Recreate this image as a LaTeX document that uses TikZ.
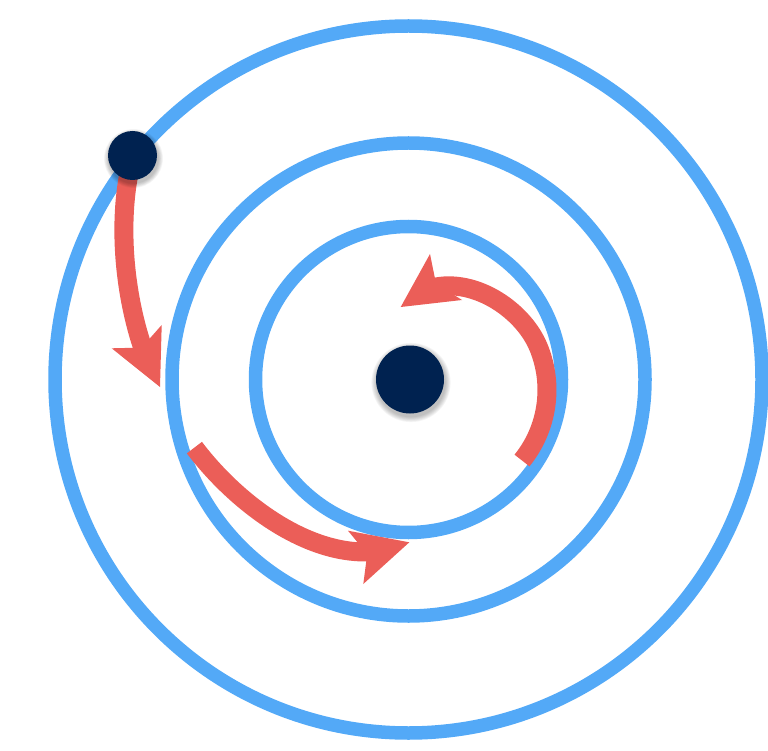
\documentclass[tikz,border=0pt]{standalone}
\usetikzlibrary{calc}
\definecolor{orbitblue}{RGB}{83,169,247}
\definecolor{arrowred}{RGB}{235,94,88}
\definecolor{navy}{RGB}{0,34,80}
\tikzset{
  orbitline/.style={draw=orbitblue, line width=13.5pt},
  redshaft/.style={draw=arrowred, line width=19pt},
  redhead/.style={fill=arrowred, draw=none},
  bodydot/.style={circle, fill=navy, draw=none, inner sep=0pt, minimum size=#1},
  shadowring/.style={fill=black, opacity=0.04},
}
\begin{document}
\begin{tikzpicture}[x=1pt,y=-1pt]
\useasboundingbox (0,0) rectangle (768,751);
\coordinate (O) at (408.5,379.5);
\coordinate (C) at (410,379.5);
\coordinate (P) at (132.5,155.5);
% orbits
\draw[orbitline] (O) circle (353.5pt);
\draw[orbitline] (O) circle (236.5pt);
\draw[orbitline] (O) circle (153pt);
% arrow 1
\coordinate (a1s) at (130.7,165);
\coordinate (a1e) at (145.9,356.7);
\coordinate (a1t) at (160,387);
\coordinate (a1l) at (111.7,348.3);
\coordinate (a1n) at (141.7,347.6);
\coordinate (a1r) at (161.7,325);
\draw[redshaft] (a1s) .. controls (117,225) and (124.9,300.3) .. (a1e);
\fill[redhead] (a1t) -- (a1l) -- (a1n) -- (a1r) -- cycle;
% arrow 2
\coordinate (a2s) at (194.4,447.6);
\coordinate (a2e) at (376.8,551.4);
\coordinate (a2t) at (409.3,542.3);
\coordinate (a2u) at (348,530.7);
\coordinate (a2n) at (367.2,554.1);
\coordinate (a2d) at (363.3,584);
\draw[redshaft] (a2s) .. controls (234.7,501) and (307.5,558.4) .. (a2e);
\fill[redhead] (a2t) -- (a2u) -- (a2n) -- (a2d) -- cycle;
% arrow 3
\coordinate (a3s) at (522,460.5);
\coordinate (a3m) at (538.3,346.8);
\coordinate (a3e) at (427.7,289.1);
\coordinate (a3t) at (400.7,307);
\coordinate (a3u) at (430,254);
\coordinate (a3n) at (436,283.6);
\coordinate (a3d) at (462,300);
\draw[redshaft] (a3s) .. controls (547.9,428.5) and (554.2,384.8) .. (a3m)
  .. controls (522.4,308.8) and (471.3,275) .. (a3e);
\fill[redhead] (a3t) -- (a3u) -- (a3n) -- (a3d) -- cycle;
% shadows
\foreach \k in {1,...,7}{
  \fill[shadowring] ($(C)+(1,3)$) circle [radius={34pt+\k*0.8pt}];
  \fill[shadowring] ($(P)+(1,3)$) circle [radius={24.5pt+\k*0.7pt}];
}
% bodies
\node[bodydot=68pt] (sun) at (C) {};
\node[bodydot=49pt] (planet) at (P) {};
\end{tikzpicture}
\end{document}
